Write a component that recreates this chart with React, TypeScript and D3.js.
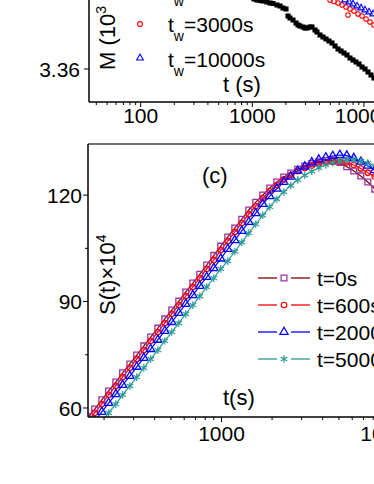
import React from 'react'
import * as d3 from 'd3'

// upper panel (only its lower part is in view): M(t) for three waiting times
const mT0 = [860, 954, 1036, 1102, 1172, 1247, 1354, 1441, 1533, 1665, 1771, 1884, 2004, 2089, 2177, 2316, 2464, 2568, 2676, 2847, 2967, 3092, 3289, 3427, 3646, 3800, 4043, 4301, 4575, 4867, 5178, 5508, 5860, 6234, 6632, 7055, 7506, 7985, 8495, 9038, 9615, 10230, 10880, 11575, 12315]
const mV0 = [3.3674, 3.3672, 3.367, 3.3669, 3.36685, 3.3668, 3.3667, 3.3666, 3.36655, 3.3664, 3.3663, 3.3661, 3.366, 3.3653, 3.3651, 3.3649, 3.3646, 3.3644, 3.3643, 3.3642, 3.3641, 3.3641, 3.3642, 3.3642, 3.3639, 3.3637, 3.3634, 3.3632, 3.363, 3.3628, 3.3626, 3.3623, 3.362, 3.3618, 3.3616, 3.3614, 3.3611, 3.3609, 3.3607, 3.3605, 3.3602, 3.36, 3.3597, 3.3594, 3.3591]
const mT3000 = [4481, 4969, 5397, 5860, 6365, 6912, 7202, 7506, 8151, 8852, 9615, 10442, 11341, 12315]
const mV3000 = [3.3672, 3.3669, 3.36675, 3.3666, 3.3664, 3.3662, 3.3654, 3.366, 3.3658, 3.3655, 3.3653, 3.365, 3.3647, 3.3644]
const mT10000 = [6771, 7354, 7985, 8673, 9419, 10230, 11109, 12064]
const mV10000 = [3.3669, 3.3667, 3.3665, 3.3663, 3.3661, 3.3659, 3.3657, 3.3655]
const mLegend = ['3000s', '10000s']

// panel (c): S(t) x 10^4
const times = [160, 176, 194, 213, 235, 258, 285, 313, 345, 379, 418, 460, 506, 557, 613, 675, 743, 817, 900, 990, 1090, 1200, 1321, 1454, 1600, 1761, 1938, 2134, 2349, 2585, 2845, 3132, 3447, 3794, 4176, 4597, 5060, 5569, 6130, 6747, 7427, 8175, 8998]
const s0 = [57.5, 59.7, 62.3, 64.8, 67.3, 69.9, 72.4, 74.9, 77.5, 80.0, 82.5, 85.1, 87.6, 90.1, 92.7, 95.2, 97.7, 100.3, 103.0, 105.6, 108.2, 110.7, 113.2, 115.8, 118.0, 120.0, 122.0, 123.7, 125.1, 126.2, 127.3, 128.2, 128.9, 129.4, 129.7, 129.7, 129.2, 128.0, 126.8, 125.4, 123.7, 121.7, 119.7]
const s600 = [56.3, 58.6, 61.1, 63.7, 66.2, 68.7, 71.3, 73.8, 76.3, 78.9, 81.4, 83.9, 86.5, 89.0, 91.5, 94.1, 96.6, 99.2, 101.7, 104.5, 107.0, 109.6, 112.1, 114.6, 116.9, 119.1, 121.1, 122.8, 124.4, 125.6, 126.8, 127.6, 128.3, 128.9, 129.3, 129.4, 129.4, 129.2, 128.5, 127.5, 126.3, 125.2, 124.1]
const s2000 = [54.1, 56.3, 58.9, 61.4, 63.9, 66.5, 69.0, 71.6, 74.1, 76.6, 79.2, 81.7, 84.2, 86.8, 89.3, 91.8, 94.4, 96.9, 99.4, 102.1, 104.8, 107.3, 109.9, 112.4, 114.9, 117.5, 119.7, 121.8, 123.7, 125.2, 126.8, 128.0, 129.2, 130.0, 130.6, 131.0, 131.3, 131.1, 130.4, 129.4, 128.3, 127.0, 125.8]
const s5000 = [51.0, 53.5, 56.1, 58.6, 61.1, 63.7, 66.2, 68.7, 71.3, 73.8, 76.3, 78.9, 81.4, 83.9, 86.5, 89.0, 91.5, 94.1, 96.6, 99.2, 101.4, 104.1, 106.7, 109.3, 111.8, 114.3, 116.7, 118.9, 120.9, 122.7, 124.3, 125.6, 126.7, 127.7, 128.5, 129.1, 129.6, 129.9, 129.9, 129.6, 129.0, 128.3, 127.6]
const cLabels = ['t=0s', 't=600s', 't=2000s', 't=5000s']
const yTicksC = [60, 90, 120]
const yMinorC = [75, 105]

const font = '"Liberation Sans", Arial, sans-serif'

const App = () => {
  const xb = d3.scaleLog().domain([34.4, 20000]).range([89, 397.5])
  const yb = d3.scaleLinear().domain([3.3567, 3.37]).range([102, -31])
  const xc = d3.scaleLog().domain([160.5, 12000]).range([88, 402.8])
  const yc = d3.scaleLinear().domain([57.46, 134.4]).range([417, 144])

  const isMajor = v => Math.abs(Math.log10(v) - Math.round(Math.log10(v))) < 1e-6
  const sym = (type, size) => d3.symbol().type(type).size(size)()

  const series = [
    { label: cLabels[0], vals: s0, line: '#800000', mark: '#9932a0', shape: d3.symbolSquare, size: 34, star: false },
    { label: cLabels[1], vals: s600, line: '#ff0000', mark: '#ff0000', shape: d3.symbolCircle, size: 24, star: false },
    { label: cLabels[2], vals: s2000, line: '#0000ff', mark: '#0000ff', shape: d3.symbolTriangle, size: 30, star: false },
    { label: cLabels[3], vals: s5000, line: '#2a9a9a', mark: '#2a9a9a', shape: d3.symbolAsterisk, size: 40, star: true },
  ]

  const lineC = d3.line().x(d => xc(d[0])).y(d => yc(d[1]))

  return (
    <svg width={374} height={484} style={{ position: 'absolute', left: 0, top: 0 }} fontFamily={font}>
      <defs>
        <clipPath id="clipB"><rect x={89} y={-40} width={320} height={142} /></clipPath>
        <clipPath id="clipC"><rect x={88} y={144} width={320} height={273} /></clipPath>
      </defs>

      {/* upper panel */}
      <g clipPath="url(#clipB)">
        {mT0.map((t, i) => (
          <path key={'k' + i} d={sym(d3.symbolSquare, 26)} transform={`translate(${xb(t)},${yb(mV0[i])})`} fill="#000" />
        ))}
        {mT3000.map((t, i) => (
          <path key={'r' + i} d={sym(d3.symbolCircle, 16)} transform={`translate(${xb(t)},${yb(mV3000[i])})`} fill="none" stroke="#ff0000" strokeWidth={1.1} />
        ))}
        {mT10000.map((t, i) => (
          <path key={'b' + i} d={sym(d3.symbolTriangle, 18)} transform={`translate(${xb(t)},${yb(mV10000[i])})`} fill="none" stroke="#0000ff" strokeWidth={1.1} />
        ))}
      </g>
      <line x1={89} x2={89} y1={0} y2={102} stroke="#000" strokeWidth={1.5} />
      <line x1={89} x2={374} y1={102} y2={102} stroke="#000" strokeWidth={1.5} />
      {xb.ticks().map((v, i) => (
        <line key={'bt' + i} x1={xb(v)} x2={xb(v)} y1={102} y2={isMajor(v) ? 107 : 105} stroke="#000" strokeWidth={1} />
      ))}
      {[100, 1000, 10000].map(v => (
        <text key={'bl' + v} x={xb(v)} y={123} fontSize={21} textAnchor="middle">{v}</text>
      ))}
      <line x1={84} x2={89} y1={yb(3.36)} y2={yb(3.36)} stroke="#000" strokeWidth={1} />
      <text x={80} y={yb(3.36)} dy="0.36em" fontSize={21} textAnchor="end">3.36</text>
      <text transform="translate(115,70) rotate(-90)" fontSize={22}>
        M (10<tspan dy={-9} fontSize={14}>3</tspan><tspan dy={9}> emu/g)</tspan>
      </text>
      <text x={168} y={-3} fontSize={21}>t<tspan dy={9} fontSize={14}>w</tspan><tspan dy={-9}>=0s</tspan></text>
      {mLegend.map((l, i) => (
        <g key={'ml' + i}>
          <path d={sym(i === 0 ? d3.symbolCircle : d3.symbolTriangle, i === 0 ? 18 : 20)} transform={`translate(140,${24 + i * 34})`}
            fill="none" stroke={i === 0 ? '#ff0000' : '#0000ff'} strokeWidth={1.1} />
          <text x={168} y={32 + i * 35} fontSize={21}>t<tspan dy={9} fontSize={14}>w</tspan><tspan dy={-9}>={l}</tspan></text>
        </g>
      ))}
      <text x={223} y={92} fontSize={22}>t (s)</text>

      {/* panel (c) */}
      <g clipPath="url(#clipC)">
        {series.map((s, si) => (
          <path key={'cl' + si} d={lineC(times.map((t, i) => [t, s.vals[i]]))} fill="none" stroke={s.line} strokeWidth={1.2} />
        ))}
        {series.map((s, si) => (
          <g key={'cm' + si}>
            {times.map((t, i) => (
              <path key={i} d={sym(s.shape, s.size)} transform={`translate(${xc(t)},${yc(s.vals[i])})`}
                fill="none" stroke={s.mark} strokeWidth={s.star ? 1.2 : 1.3} />
            ))}
          </g>
        ))}
      </g>
      <line x1={88} x2={374} y1={144} y2={144} stroke="#444" strokeWidth={1.3} />
      <line x1={88} x2={88} y1={144} y2={417} stroke="#000" strokeWidth={1.5} />
      <line x1={88} x2={374} y1={417} y2={417} stroke="#000" strokeWidth={1.5} />
      {xc.ticks().map((v, i) => (
        <line key={'ct' + i} x1={xc(v)} x2={xc(v)} y1={417} y2={isMajor(v) ? 422 : 420} stroke="#000" strokeWidth={1} />
      ))}
      {[1000, 10000].map(v => (
        <text key={'cx' + v} x={xc(v)} y={441} fontSize={21} textAnchor="middle">{v}</text>
      ))}
      {yTicksC.map(v => (
        <g key={'cy' + v}>
          <line x1={83} x2={88} y1={yc(v)} y2={yc(v)} stroke="#000" strokeWidth={1} />
          <text x={82} y={yc(v)} dy="0.36em" fontSize={21} textAnchor="end">{v}</text>
        </g>
      ))}
      {yMinorC.map(v => (
        <line key={'cm' + v} x1={85} x2={88} y1={yc(v)} y2={yc(v)} stroke="#000" strokeWidth={1} />
      ))}
      <text transform="translate(115,315) rotate(-90)" fontSize={22}>
        S(t)×10<tspan dy={-9} fontSize={14}>4</tspan>
      </text>
      <text x={202} y={183} fontSize={22}>(c)</text>
      <text x={223} y={405} fontSize={22}>t(s)</text>
      {series.map((s, i) => {
        const y = 278 + i * 27
        return (
          <g key={'lg' + i}>
            <line x1={258} x2={277} y1={y} y2={y} stroke={s.line} strokeWidth={1.3} />
            <line x1={291} x2={310} y1={y} y2={y} stroke={s.line} strokeWidth={1.3} />
            <path d={sym(s.shape, s.size)} transform={`translate(284,${y})`} fill="none" stroke={s.mark} strokeWidth={1.2} />
            <text x={317} y={y + 7.5} fontSize={21}>{s.label}</text>
          </g>
        )
      })}
    </svg>
  )
}

export default App
